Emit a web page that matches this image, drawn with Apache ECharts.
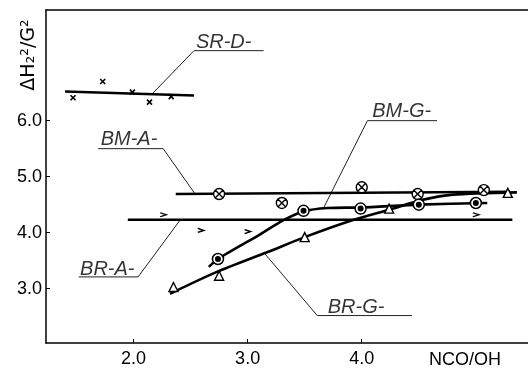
<!DOCTYPE html>
<html>
<head>
<meta charset="utf-8">
<script src="https://cdn.jsdelivr.net/npm/echarts@6/dist/echarts.min.js"></script>
<style>
    html, body {margin: 0; padding: 0; background: #fff;}
    #main {width: 528px; height: 368px;}
</style>
</head>
<body>
<div id="main"></div>
<script>
// tick labels
let xTicks = [2, 3, 4];
let yTicks = [3, 4, 5, 6];

// SR-D- (x marks) and its fitted line
let srdPoints = [[1.47, 6.41], [1.73, 6.70], [1.99, 6.51], [2.14, 6.33], [2.33, 6.43]];
let srdLine = [[1.40, 6.52], [2.53, 6.45]];

// BM-A- (crossed circles)
let bmaPoints = [[2.75, 4.69], [3.30, 4.53], [4.00, 4.81], [4.49, 4.69], [5.07, 4.76]];
let bmaLine = [[2.37, 4.69], [5.30, 4.73]];

// BR-A- (chevrons)
let braPoints = [[2.26, 4.32], [2.59, 4.04], [3.00, 4.02], [5.00, 4.32]];
let braLine = [[1.95, 4.23], [5.32, 4.23]];

// BM-G- (dotted circles)
let bmgPoints = [[2.74, 3.53], [3.49, 4.39], [3.99, 4.43], [4.50, 4.50], [5.00, 4.53]];
let bmgCurve = [[2.66, 3.39], [2.74, 3.53], [3.11, 3.97], [3.31, 4.22], [3.49, 4.38], [3.70, 4.44], [3.99, 4.45], [4.50, 4.50], [5.10, 4.53]];

// BR-G- (triangles)
let brgPoints = [[2.35, 3.03], [2.75, 3.23], [3.50, 3.92], [4.24, 4.43], [5.28, 4.71]];
let brgCurve = [[2.32, 2.91], [2.73, 3.30], [3.17, 3.65], [3.50, 3.92], [3.93, 4.23], [4.24, 4.41], [4.54, 4.59], [4.80, 4.68], [5.36, 4.72]];

// series names and where the leader lines go
let labelNames = ['SR-D-', 'BM-A-', 'BM-G-', 'BR-A-', 'BR-G-'];
let labelAt = [[2.79, 7.40], [1.96, 5.66], [4.35, 6.17], [1.77, 3.34], [3.95, 2.67]];
let leaders = [
    [[3.14, 7.25], [2.53, 7.25], [2.16, 6.47]],
    [[1.69, 5.50], [2.26, 5.50], [2.54, 4.69]],
    [[4.66, 6.00], [4.05, 6.00], [3.67, 4.46]],
    [[1.52, 3.21], [2.04, 3.21], [2.41, 4.23]],
    [[4.44, 2.52], [3.61, 2.52], [3.14, 3.65]]
];

// axis titles
let yTitle = 'ΔH₂²/G²';
let xTitle = 'NCO/OH';

let font = 'Liberation Sans';
let myChart = echarts.init(document.getElementById('main'));

let thickLine = (data, smooth) => {
    return {
        type: 'line', data: data, showSymbol: false, smooth: smooth ? 0.25 : false, silent: true,
        lineStyle: {color: '#000', width: 2.6}, z: 3
    }
};

let markers = (data, symbol, size, fill, border, bw) => {
    return {
        type: 'scatter', data: data, symbol: symbol, symbolSize: size, silent: true,
        itemStyle: {color: fill, borderColor: border, borderWidth: bw, opacity: 1}, z: 5
    }
};

let series = [
    thickLine(srdLine), thickLine(bmaLine), thickLine(braLine),
    thickLine(bmgCurve, true), thickLine(brgCurve, true),
    markers(srdPoints, 'path://M0,0 L10,10 M10,0 L0,10', 5, 'none', '#000', 1.6),
    markers(bmaPoints, 'path://M5,0 A5,5 0 1,1 5,10 A5,5 0 1,1 5,0 Z M1.6,1.6 L8.4,8.4 M8.4,1.6 L1.6,8.4', 11, '#fff', '#000', 1.4),
    markers(braPoints, 'path://M0,0 L8,3 L0,6', [6, 4], 'none', '#000', 1.6),
    markers(bmgPoints, 'circle', 11, '#fff', '#000', 1.5),
    markers(bmgPoints, 'circle', 6, '#000', '#000', 0),
    markers(brgPoints, 'triangle', 9, '#fff', '#000', 1.4)
];

leaders.forEach(item => {
    series.push({
        type: 'line', data: item, showSymbol: false, silent: true,
        lineStyle: {color: '#222', width: 1}, z: 2
    });
});

series.push({
    type: 'scatter', symbolSize: 0, silent: true, z: 6,
    data: labelNames.map((name, i) => ({name: name, value: labelAt[i]})),
    label: {
        show: true, position: 'inside', formatter: '{b}',
        color: '#000', fontFamily: font, fontStyle: 'italic', fontSize: 20
    }
});

myChart.setOption({
    animation: false,
    backgroundColor: '#fff',
    grid: {left: 46, right: 0, top: 10, bottom: 21},
    xAxis: [{
        type: 'value', min: 1.233, max: 5.457,
        axisLine: {lineStyle: {color: '#000', width: 1.5}},
        axisTick: {inside: true, length: 4, customValues: xTicks, lineStyle: {color: '#000'}},
        axisLabel: {customValues: xTicks, margin: 7, color: '#000', fontFamily: font, fontSize: 18,
            formatter: v => v.toFixed(1)},
        splitLine: {show: false}
    }, {
        type: 'value', position: 'top', min: 1.233, max: 5.457,
        axisLine: {show: true, lineStyle: {color: '#000', width: 1.5}},
        axisTick: {show: false}, axisLabel: {show: false}, splitLine: {show: false}
    }],
    yAxis: {
        type: 'value', min: 2.03, max: 7.976,
        axisLine: {show: true, lineStyle: {color: '#000', width: 1.5}},
        axisTick: {inside: true, length: 4, customValues: yTicks, lineStyle: {color: '#000'}},
        axisLabel: {customValues: yTicks, margin: 4, color: '#000', fontFamily: font, fontSize: 18,
            formatter: v => v.toFixed(1)},
        splitLine: {show: false}
    },
    graphic: [{
        type: 'text', x: 20, y: 55, rotation: Math.PI / 2,
        style: {text: yTitle, fill: '#000', font: '19px "DejaVu Sans"', align: 'center', verticalAlign: 'top'}
    }, {
        type: 'text', x: 465, y: 360,
        style: {text: xTitle, fill: '#000', font: '18px "Liberation Sans"', align: 'center', verticalAlign: 'middle'}
    }],
    series: series
});
</script>
</body>
</html>
